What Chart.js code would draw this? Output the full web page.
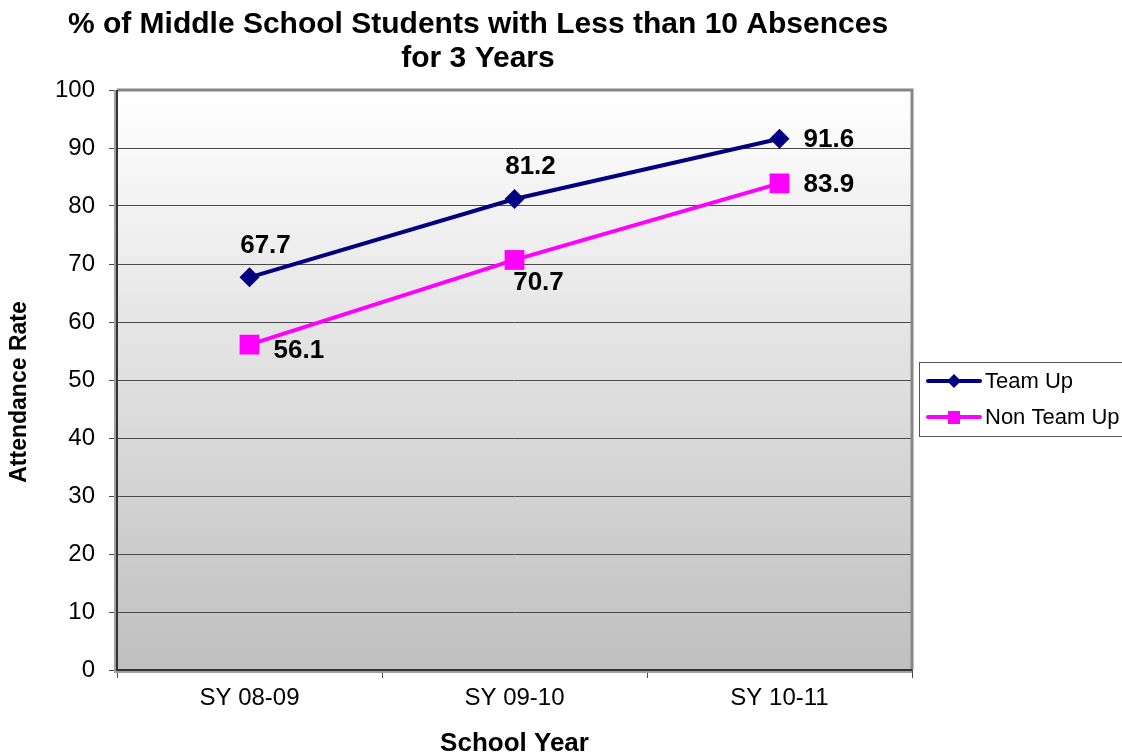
<!DOCTYPE html>
<html>
<head>
<meta charset="utf-8">
<script src="https://cdn.jsdelivr.net/npm/chart.js@4/dist/chart.umd.min.js"></script>
<style>
  html, body { margin: 0; padding: 0; background: #ffffff; }
  #wrap { width: 1122px; height: 755px; position: relative; }
</style>
</head>
<body>
<div id="wrap"><canvas id="chart" width="1122" height="755"></canvas></div>
<script>
// dados do gráfico
const categories = ['SY 08-09', 'SY 09-10', 'SY 10-11'];
const teamUp = [67.7, 81.2, 91.6];
const nonTeamUp = [56.1, 70.7, 83.9];
const teamUpLabelPos = ['above', 'above', 'right'];
const nonTeamUpLabelPos = ['right', 'below', 'right'];
const titleLines = ['% of Middle School Students with Less than 10 Absences', 'for 3 Years'];
const yTitle = 'Attendance Rate';
const xTitle = 'School Year';

const COLORS = {
    teamUp: '#000080',
    nonTeamUp: '#ff00ff'
};

const FONT = "'Liberation Sans', Arial, sans-serif";

// fundo em gradiente + bordas da área do gráfico
const plotBackground = {
    id: 'plotBackground',
    beforeDraw(chart) {
        const { ctx, chartArea: a } = chart;
        ctx.save();
        const g = ctx.createLinearGradient(0, a.top, 0, a.bottom);
        g.addColorStop(0, '#ffffff');
        g.addColorStop(1, '#bfbfbf');
        ctx.fillStyle = g;
        ctx.fillRect(a.left, a.top, a.right - a.left, a.bottom - a.top);
        ctx.restore();
    },
    afterDatasetsDraw(chart) {
        const { ctx, chartArea: a } = chart;
        ctx.save();
        // sombra cinza em cima e à direita
        ctx.strokeStyle = '#868686';
        ctx.lineWidth = 3;
        ctx.beginPath();
        ctx.moveTo(a.left, a.top);
        ctx.lineTo(a.right, a.top);
        ctx.lineTo(a.right, a.bottom);
        ctx.stroke();
        // linhas escuras à esquerda e embaixo
        ctx.strokeStyle = '#a0a0a0';
        ctx.lineWidth = 2;
        ctx.beginPath();
        ctx.moveTo(a.left - 2, a.top);
        ctx.lineTo(a.left - 2, a.bottom + 2);
        ctx.lineTo(a.right, a.bottom + 2);
        ctx.stroke();
        ctx.strokeStyle = '#333333';
        ctx.lineWidth = 2;
        ctx.beginPath();
        ctx.moveTo(a.left, a.top);
        ctx.lineTo(a.left, a.bottom);
        ctx.lineTo(a.right, a.bottom);
        ctx.stroke();
        ctx.restore();
    }
};

// rótulos de valores
const valueLabels = {
    id: 'valueLabels',
    afterDatasetsDraw(chart) {
        const { ctx } = chart;
        const positions = [teamUpLabelPos, nonTeamUpLabelPos];
        ctx.save();
        ctx.font = 'bold 26px ' + FONT;
        ctx.fillStyle = '#000000';
        ctx.textBaseline = 'middle';
        chart.data.datasets.forEach((ds, di) => {
            const meta = chart.getDatasetMeta(di);
            meta.data.forEach((pt, i) => {
                const txt = ds.data[i].toFixed(1);
                const pos = positions[di][i];
                if (pos === 'above') {
                    ctx.textAlign = 'center';
                    ctx.fillText(txt, pt.x + 16, pt.y - 32);
                } else if (pos === 'below') {
                    ctx.textAlign = 'center';
                    ctx.fillText(txt, pt.x + 24, pt.y + 23);
                } else {
                    ctx.textAlign = 'left';
                    ctx.fillText(txt, pt.x + 24, pt.y + (pt.y > 300 ? 6 : 1));
                }
            });
        });
        ctx.restore();
    }
};

// título, título do eixo Y e legenda desenhados à mão
const extras = {
    id: 'extras',
    afterDraw(chart) {
        const { ctx } = chart;
        ctx.save();
        ctx.fillStyle = '#000000';
        ctx.font = 'bold 30px ' + FONT;
        ctx.textAlign = 'center';
        ctx.textBaseline = 'middle';
        ctx.fillText(titleLines[0], 478, 25);
        ctx.fillText(titleLines[1], 478, 59);

        // título do eixo Y
        ctx.save();
        ctx.translate(20, 392);
        ctx.rotate(-Math.PI / 2);
        ctx.font = 'bold 23px ' + FONT;
        ctx.fillText(yTitle, 0, 0);
        ctx.restore();

        // legenda
        const lx = 919, ly = 362, lw = 210, lh = 74;
        ctx.fillStyle = '#ffffff';
        ctx.fillRect(lx, ly, lw, lh);
        ctx.strokeStyle = '#555555';
        ctx.lineWidth = 1;
        ctx.strokeRect(lx + 0.5, ly + 0.5, lw, lh);

        const items = [
            { label: 'Team Up', color: COLORS.teamUp, shape: 'diamond', y: 381 },
            { label: 'Non Team Up', color: COLORS.nonTeamUp, shape: 'square', y: 417 }
        ];
        items.forEach(it => {
            ctx.strokeStyle = it.color;
            ctx.lineWidth = 4;
            ctx.lineCap = 'round';
            ctx.beginPath();
            ctx.moveTo(928, it.y);
            ctx.lineTo(980, it.y);
            ctx.stroke();
            ctx.fillStyle = it.color;
            if (it.shape === 'diamond') {
                ctx.beginPath();
                ctx.moveTo(954, it.y - 7);
                ctx.lineTo(961, it.y);
                ctx.lineTo(954, it.y + 7);
                ctx.lineTo(947, it.y);
                ctx.closePath();
                ctx.fill();
            } else {
                ctx.fillRect(948, it.y - 6, 12, 13);
            }
            ctx.fillStyle = '#000000';
            ctx.font = '22px ' + FONT;
            ctx.textAlign = 'left';
            ctx.fillText(it.label, 985, it.y + 1);
        });
        ctx.restore();
    }
};

const ctx = document.getElementById('chart').getContext('2d');
new Chart(ctx, {
    type: 'line',
    data: {
        labels: categories,
        datasets: [
            {
                label: 'Team Up',
                data: teamUp,
                borderColor: COLORS.teamUp,
                backgroundColor: COLORS.teamUp,
                borderWidth: 4,
                pointStyle: 'rectRot',
                pointRadius: 10,
                pointBorderWidth: 0,
                tension: 0
            },
            {
                label: 'Non Team Up',
                data: nonTeamUp,
                borderColor: COLORS.nonTeamUp,
                backgroundColor: COLORS.nonTeamUp,
                borderWidth: 4,
                pointStyle: 'rect',
                pointRadius: 14,
                pointBorderWidth: 0,
                tension: 0
            }
        ]
    },
    options: {
        responsive: false,
        animation: false,
        layout: {
            padding: { left: 0, right: 210, top: 90, bottom: 0 }
        },
        plugins: {
            legend: { display: false },
            title: { display: false },
            tooltip: { enabled: false }
        },
        scales: {
            y: {
                min: 0,
                max: 100,
                ticks: {
                    stepSize: 10,
                    color: '#000000',
                    font: { family: FONT, size: 24 },
                    padding: 14
                },
                grid: {
                    color: '#4a4a4a',
                    lineWidth: 1,
                    tickLength: 8,
                    tickColor: '#4a4a4a',
                    drawTicks: true
                },
                border: { display: false },
                title: { display: false },
                afterFit(scale) { scale.width = 117; }
            },
            x: {
                offset: true,
                ticks: {
                    color: '#000000',
                    font: { family: FONT, size: 24 },
                    padding: 6
                },
                grid: {
                    offset: true,
                    drawOnChartArea: false,
                    drawTicks: true,
                    tickLength: 8,
                    tickColor: '#4a4a4a'
                },
                border: { display: false },
                title: {
                    display: true,
                    text: xTitle,
                    color: '#000000',
                    font: { family: FONT, size: 26, weight: 'bold' },
                    padding: { top: 0, bottom: -4 }
                },
                afterFit(scale) { scale.height = 85; }
            }
        }
    },
    plugins: [plotBackground, valueLabels, extras]
});
</script>
</body>
</html>
